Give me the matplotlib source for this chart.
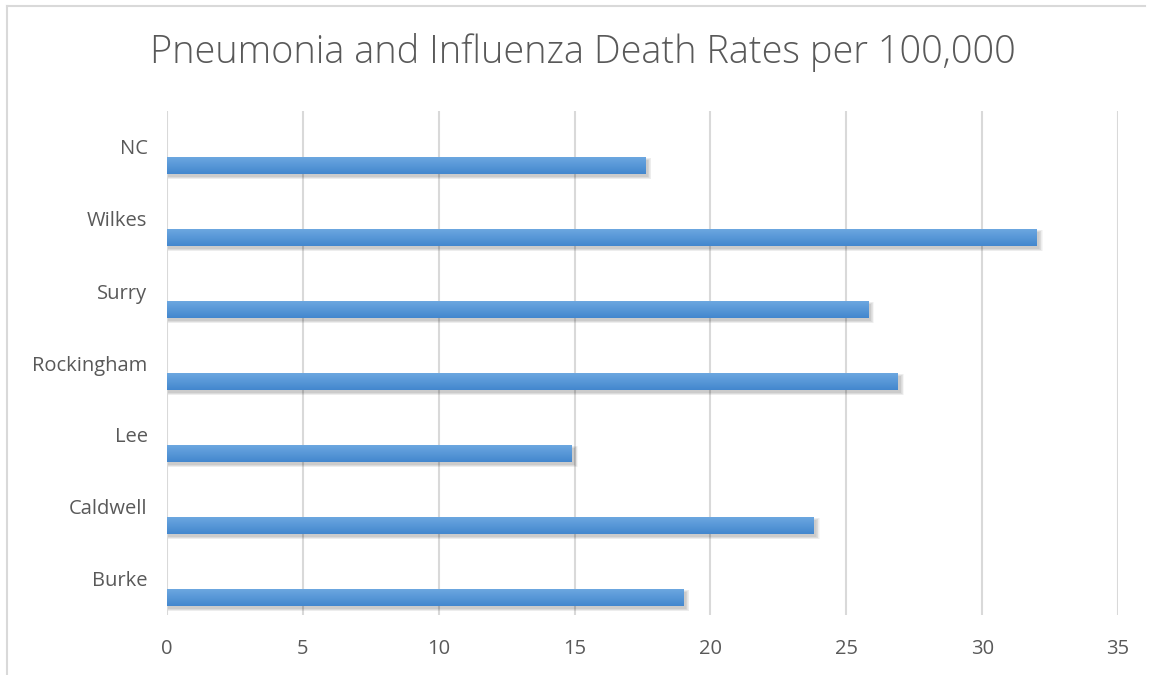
import numpy as np
import matplotlib
matplotlib.use('Agg')
import matplotlib.pyplot as plt
from matplotlib.lines import Line2D

plt.rcParams['font.family'] = ['Open Sans', 'DejaVu Sans']

# data
counties = ['Burke', 'Caldwell', 'Lee', 'Rockingham', 'Surry', 'Wilkes', 'NC']
rates = [19.0, 23.8, 14.9, 26.9, 25.8, 32.0, 17.6]
xticks = [0, 5, 10, 15, 20, 25, 30, 35]

txt = '#595959'
fig = plt.figure(figsize=(11.54, 6.75), dpi=100)
ax = fig.add_axes([167/1154, 60/675, (1118-167)/1154, (615-111)/675])

pos = np.arange(len(counties))
off = 19/72     # bars sit below the label
bh = 17/72

# soft shadow
for k in range(6):
    ax.barh(pos - off - 0.035, np.array(rates) + 0.05 + k*0.025, height=bh + 0.012*k,
            left=0.05, color='black', alpha=0.035, zorder=2, linewidth=0)

grad = np.linspace(1, 0, 50).reshape(-1, 1)
cmap = matplotlib.colors.LinearSegmentedColormap.from_list('b', ['#6CA7E0', '#4387CE'])
for p, v in zip(pos, rates):
    y0 = p - off - bh/2
    ax.imshow(grad, extent=[0, v, y0, y0 + bh], cmap=cmap, aspect='auto', zorder=3,
              interpolation='bilinear', origin='lower')

ax.set_xlim(0, 35)
ax.set_ylim(-0.5, 6.5)
ax.set_xticks(xticks)
ax.set_xticklabels([str(t) for t in xticks])
ax.set_yticks(pos)
ax.set_yticklabels(counties)
ax.grid(axis='x', color='#D9D9D9', linewidth=1.5, zorder=0)
ax.set_axisbelow(True)
for s in ax.spines.values():
    s.set_visible(False)
ax.tick_params(length=0, labelsize=14.5, labelcolor=txt)
ax.tick_params(axis='x', pad=17)
ax.tick_params(axis='y', pad=14)

fig.text(583/1154, 1 - 53/675, 'Pneumonia and Influenza Death Rates per 100,000',
         ha='center', va='center', fontsize=27.3, color=txt, fontweight='light')

# chart border
fig.add_artist(Line2D([7/1154, 7/1154], [0, 1 - 6/675], color='#D9D9D9', linewidth=1.5))
fig.add_artist(Line2D([7/1154, 1145/1154], [1 - 6/675, 1 - 6/675], color='#D9D9D9', linewidth=1.5))

fig.savefig('out.png', dpi=100)
